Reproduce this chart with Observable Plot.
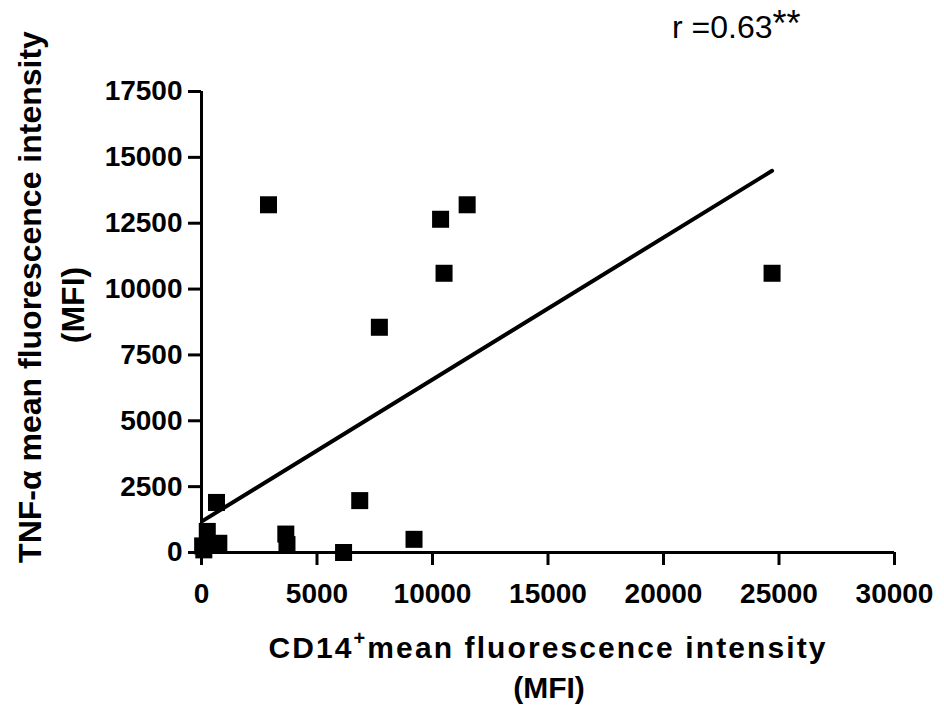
<!DOCTYPE html>
<html>
<head>
<meta charset="utf-8">
<script src="https://cdn.jsdelivr.net/npm/d3@7"></script>
<script src="https://cdn.jsdelivr.net/npm/@observablehq/plot@0.6"></script>
<style>
  html, body { margin: 0; padding: 0; background: #fff; }
  #chart svg { display: block; }
</style>
</head>
<body>
<div id="chart"></div>
<script>
// Data
const cd14 = [2900, 10350, 11500, 10500, 24700, 7700, 6850, 650, 3650, 3700, 9200, 6150, 250, 750, 100, 50];
const tnf  = [13200, 12650, 13200, 10600, 10600, 8550, 1970, 1900, 700, 300, 500, 0, 800, 350, 100, 250];
// Regression line endpoints
const fitX = [50, 24700];
const fitY = [1200, 14490];
// Ticks
const xTicks = [0, 5000, 10000, 15000, 20000, 25000, 30000];
const yTicks = [0, 2500, 5000, 7500, 10000, 12500, 15000, 17500];

const points = cd14.map((x, i) => ({x, y: tnf[i]}));
const fit = fitX.map((x, i) => ({x, y: fitY[i]}));

const font = "Liberation Sans, Arial, sans-serif";

const plot = Plot.plot({
  width: 944,
  height: 709,
  marginLeft: 201,
  marginRight: 50,
  marginTop: 91,
  marginBottom: 157,
  style: {fontFamily: font, background: "#fff", color: "#000"},
  x: {domain: [0, 30000]},
  y: {domain: [0, 17500]},
  marks: [
    Plot.axisY({ticks: yTicks, tickSize: 13, tickPadding: 6, strokeWidth: 3, fontSize: 28, fontWeight: "bold", label: null, tickFormat: d => String(d)}),
    Plot.axisX({ticks: xTicks, tickSize: 13, tickPadding: 18, strokeWidth: 3, fontSize: 28, fontWeight: "bold", label: null, tickFormat: d => String(d)}),
    Plot.ruleY([0], {strokeWidth: 3}),
    Plot.ruleX([0], {strokeWidth: 3}),
    Plot.line(fit, {x: "x", y: "y", strokeWidth: 4, stroke: "#000"}),
    Plot.dot(points, {x: "x", y: "y", symbol: "square", r: 9.6, fill: "#000", stroke: "none"})
  ]
});

document.getElementById("chart").appendChild(plot);

const svg = d3.select(plot);
// Y axis title
const yt = svg.append("g").attr("transform", "translate(30,297) rotate(-90)")
  .attr("font-family", font).attr("font-weight", "bold").attr("text-anchor", "middle").attr("fill", "#000");
yt.append("text").attr("x", 0).attr("y", 11).attr("font-size", 32).text("TNF-α mean fluorescence intensity");
yt.append("text").attr("x", -8).attr("y", 54).attr("font-size", 32).text("(MFI)");

// X axis title
const xt = svg.append("text").attr("x", 548).attr("y", 658).attr("text-anchor", "middle")
  .attr("font-family", font).attr("font-weight", "bold").attr("font-size", 30).attr("fill", "#000")
  .attr("letter-spacing", 2.1);
xt.append("tspan").text("CD14");
xt.append("tspan").attr("font-size", 20).attr("dy", -13).text("+");
xt.append("tspan").attr("dy", 13).text("mean fluorescence intensity");
svg.append("text").attr("x", 549).attr("y", 698).attr("text-anchor", "middle")
  .attr("font-family", font).attr("font-weight", "bold").attr("font-size", 30).attr("fill", "#000")
  .text("(MFI)");

// Correlation annotation
const rt = svg.append("text").attr("x", 672).attr("y", 38).attr("text-anchor", "start")
  .attr("font-family", font).attr("font-size", 32).attr("fill", "#000");
rt.append("tspan").text("r =0.63");
rt.append("tspan").attr("font-size", 36).attr("dy", -2).text("**");
</script>
</body>
</html>
